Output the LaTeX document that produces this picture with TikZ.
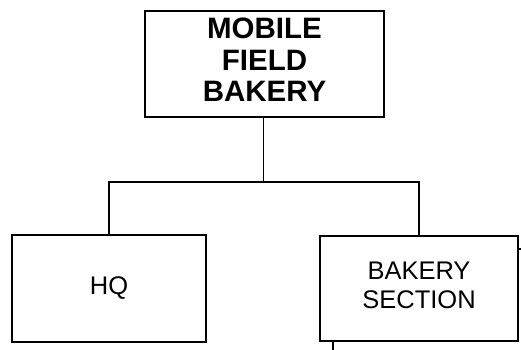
\documentclass[tikz,border=0pt]{standalone}
\usepackage{fontspec}
\setmainfont{Liberation Sans}
\begin{document}
\begin{tikzpicture}[x=1pt,y=-1pt,
  box/.style={draw=black,line width=2pt,fill=white,inner sep=0pt,align=center},
  conn/.style={draw=black,line width=1.8pt}]
\useasboundingbox (0,0) rectangle (521,350);
\node[box,minimum width=239pt,minimum height=106pt,text depth=8pt,
  font=\fontsize{29.5}{31.5}\selectfont\bfseries] (top) at (264.5,64) {MOBILE\\FIELD\\BAKERY};
\node[box,minimum width=194pt,minimum height=107pt,
  font=\fontsize{25.5}{29}\selectfont] (hq) at (109,288.5) {HQ};
\node[box,minimum width=198pt,minimum height=105pt,text depth=6pt,
  font=\fontsize{25.5}{29}\selectfont] (bak) at (419,288.5) {BAKERY\\SECTION};
\coordinate (drop) at (263.5,182);
\coordinate (busL) at (109,182);
\coordinate (busR) at (419,182);
\coordinate (tickE) at (521,249);
\coordinate (tailE) at (333,350);
\draw[conn] (drop |- top.south) -- (drop);
\draw[conn] (hq.north) -- (busL) -- (busR) -- (bak.north);
\draw[conn] (bak.east |- tickE) -- (tickE);
\draw[conn] (tailE |- bak.south) -- (tailE);
\end{tikzpicture}
\end{document}
